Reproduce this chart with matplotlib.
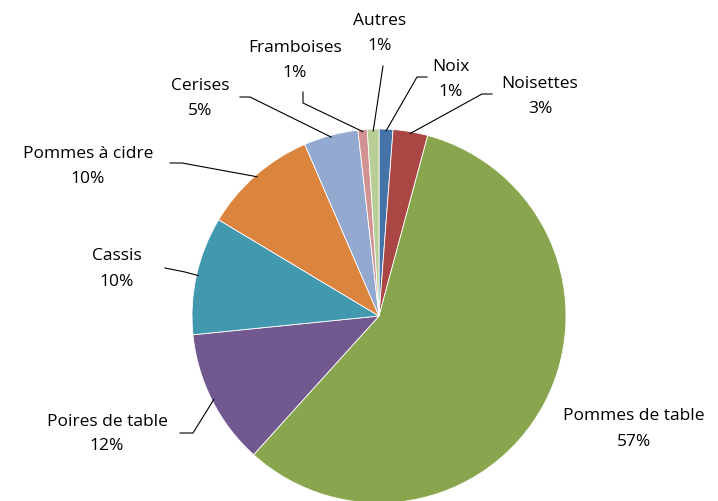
import numpy as np
import matplotlib
matplotlib.use('Agg')
import matplotlib.pyplot as plt

# pie data, clockwise from 12 o'clock
labels = ['Noix', 'Noisettes', 'Pommes de table', 'Poires de table', 'Cassis',
          'Pommes à cidre', 'Cerises', 'Framboises', 'Autres']
values = [1.2, 3.0, 57.5, 11.7, 10.2, 9.9, 4.7, 0.8, 1.0]
pct_text = ['1%', '3%', '57%', '12%', '10%', '10%', '5%', '1%', '1%']
colors = ['#4572A7', '#AA4643', '#89A54E', '#71588F', '#4198AF',
          '#DB843D', '#93A9CF', '#D19392', '#B9CD96']

# label centre (pixel coords, y from top) and elbow of the leader line
label_pos = [(451, 79), (540, 96), (634, 429), (107, 434), (117, 269),
             (88, 166), (200, 98), (295, 60), (380, 33)]
elbows = [[(427, 77), (417, 77)], [(492, 94), (482, 94)], None,
          [(180, 433), (193, 433)], [(165, 268), (185, 272)],
          [(170, 163), (182, 163)], [(240, 97), (250, 97)],
          [(303, 92), (303, 103)], [(383, 66)]]

W, H = 718, 501
cx, cy, R = 379, 316, 187

fig = plt.figure(figsize=(W / 100, H / 100), dpi=100)
ax = fig.add_axes([0, 0, 1, 1])

wedges, _ = ax.pie(values, colors=colors, startangle=90, counterclock=False,
                   center=(cx, H - cy), radius=R,
                   wedgeprops=dict(edgecolor='white', linewidth=0.6))
ax.set_xlim(0, W)
ax.set_ylim(0, H)
ax.set_aspect('equal')
ax.axis('off')

for i, w in enumerate(wedges):
    tx, ty = label_pos[i]
    ax.text(tx, H - ty, labels[i] + '\n' + pct_text[i], ha='center', va='center',
            fontsize=12.5, family='Open Sans', color='black', linespacing=1.75)
    if elbows[i] is None:
        continue
    ang = np.deg2rad((w.theta1 + w.theta2) / 2)
    ex = cx + R * 0.99 * np.cos(ang)
    ey = (H - cy) + R * 0.99 * np.sin(ang)
    xs = [p[0] for p in elbows[i]] + [ex]
    ys = [H - p[1] for p in elbows[i]] + [ey]
    ax.plot(xs, ys, color='black', linewidth=0.8)

fig.savefig('out.png', dpi=100)
